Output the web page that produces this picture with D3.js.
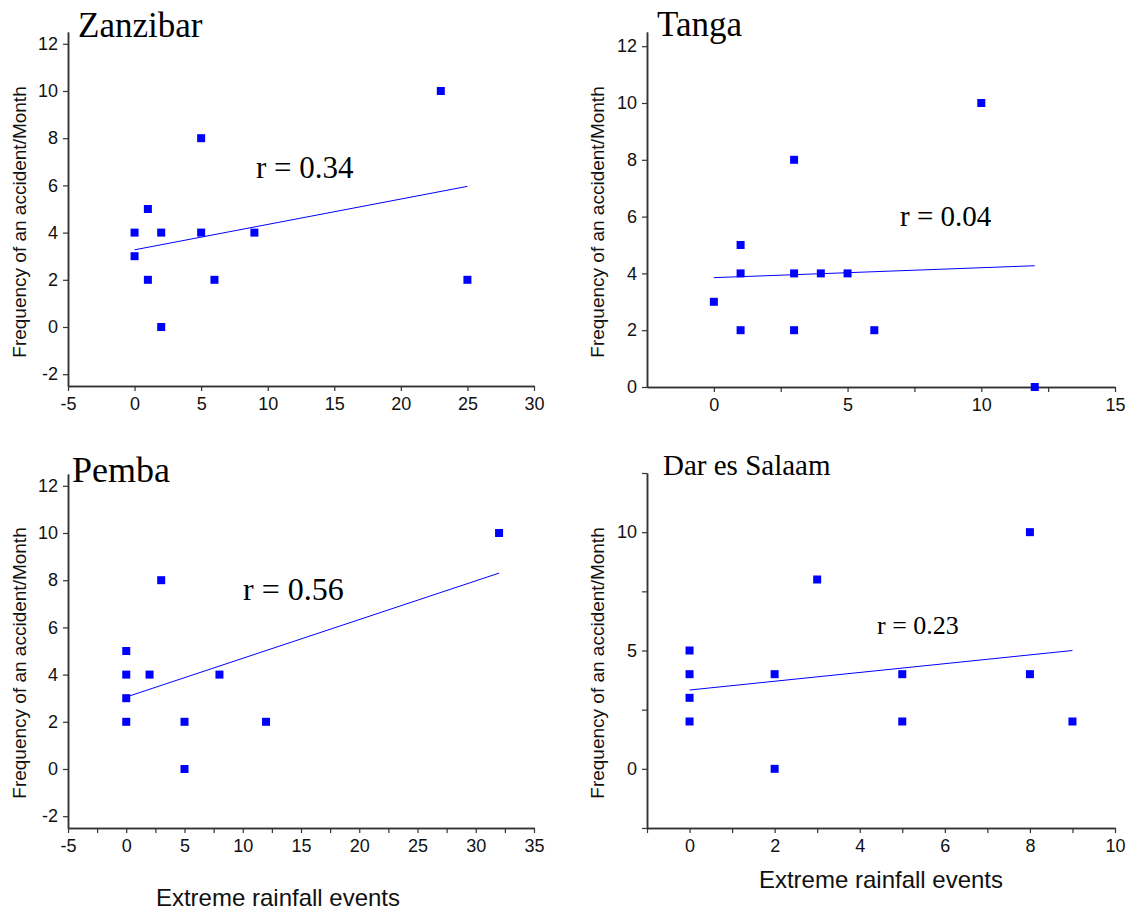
<!DOCTYPE html>
<html><head><meta charset="utf-8">
<script src="https://cdn.jsdelivr.net/npm/d3@7"></script>
<style>body{margin:0;background:#fff} svg{display:block}</style>
</head><body><svg id="c" width="1137" height="915"></svg>
<script>
// ---- data ----
const panelNames = ["Zanzibar", "Tanga", "Pemba", "Dar es Salaam"];
const zanzibarX = [0, 0, 1, 1, 2, 2, 5, 5, 6, 9, 23, 25];
const zanzibarY = [4, 3, 5, 2, 4, 0, 8, 4, 2, 4, 10, 2];
const tangaX = [0, 1, 1, 1, 3, 3, 3, 4, 5, 6, 10, 12];
const tangaY = [3, 5, 4, 2, 8, 4, 2, 4, 4, 2, 10, 0];
const pembaX = [0, 0, 0, 0, 2, 3, 5, 5, 8, 12, 32];
const pembaY = [5, 4, 3, 2, 4, 8, 2, 0, 4, 2, 10];
const darX = [0, 0, 0, 0, 2, 2, 3, 5, 5, 8, 8, 9];
const darY = [5, 4, 3, 2, 4, 0, 8, 4, 2, 10, 4, 2];
// fitted line endpoints [x1, y1, x2, y2]
const fitZanzibar = [0, 3.27, 25, 5.96];
const fitTanga = [0, 3.85, 12, 4.27];
const fitPemba = [0, 3.05, 32, 8.3];
const fitDar = [0, 3.33, 9, 5.0];
const rLabels = ["r = 0.34", "r = 0.04", "r = 0.56", "r = 0.23"];
const xDomains = [[-5, 30], [-2.5, 15], [-5, 35], [-1, 10]];
const yDomains = [[-2.5, 12.5], [0, 12.5], [-2.5, 12.5], [-2.5, 12.5]];
const xTickLabels = [[-5, 0, 5, 10, 15, 20, 25, 30], [0, 5, 10, 15], [-5, 0, 5, 10, 15, 20, 25, 30, 35], [0, 2, 4, 6, 8, 10]];
const xMinorTicks = [[], [2.5, 7.5, 12.5], [-2.5, 2.5, 7.5, 12.5, 17.5, 22.5, 27.5, 32.5], [-1, 1, 3, 5, 7, 9]];
const yTickLabels = [[-2, 0, 2, 4, 6, 8, 10, 12], [0, 2, 4, 6, 8, 10, 12], [-2, 0, 2, 4, 6, 8, 10, 12], [0, 5, 10]];
const yMinorTicks = [[], [], [], [-2.5, 2.5, 7.5, 12.5]];
const yTitle = "Frequency of an accident/Month";
const xTitle = "Extreme rainfall events";

const seriesX = [zanzibarX, tangaX, pembaX, darX];
const seriesY = [zanzibarY, tangaY, pembaY, darY];
const fits = [fitZanzibar, fitTanga, fitPemba, fitDar];

// ---- layout ----
const layout = [
  {l: 68, r: 534, t: 32, b: 386, title: [78, 37, 35], rl: [256, 178, 31], yt: [19, 222], xt: null},
  {l: 647, r: 1115, t: 32, b: 387, title: [657, 36, 35], rl: [900, 226, 29], yt: [597, 222], xt: null},
  {l: 68, r: 534, t: 474, b: 828, title: [72, 482, 36], rl: [243, 600, 32], yt: [19, 663], xt: [278, 906]},
  {l: 647, r: 1115, t: 473, b: 828, title: [663, 475, 29], rl: [877, 634, 26], yt: [597, 663], xt: [881, 888]}
];

const svg = d3.select("#c");
const axisColor = "#333";
const blue = "#0000ff";

layout.forEach((L, i) => {
  const x = d3.scaleLinear().domain(xDomains[i]).range([L.l, L.r]);
  const y = d3.scaleLinear().domain(yDomains[i]).range([L.b, L.t]);
  const g = svg.append("g");

  // axes
  g.append("g").attr("transform", `translate(0,${L.b})`)
    .call(d3.axisBottom(x).tickValues(xTickLabels[i]).tickSize(5).tickSizeOuter(0).tickPadding(6).tickFormat(d => String(d)));
  g.append("g").attr("transform", `translate(0,${L.b})`)
    .call(d3.axisBottom(x).tickValues(xMinorTicks[i]).tickSize(5).tickSizeOuter(0).tickFormat(""));
  g.append("g").attr("transform", `translate(${L.l},0)`)
    .call(d3.axisLeft(y).tickValues(yTickLabels[i]).tickSize(5).tickSizeOuter(0).tickPadding(5).tickFormat(d => String(d)));
  g.append("g").attr("transform", `translate(${L.l},0)`)
    .call(d3.axisLeft(y).tickValues(yMinorTicks[i]).tickSize(5).tickSizeOuter(0).tickFormat(""));
  g.selectAll(".domain").attr("stroke", axisColor).attr("stroke-width", 1.5);
  g.selectAll(".tick line").attr("stroke", axisColor).attr("stroke-width", 1.2);
  g.selectAll(".tick text").attr("font-family", "Arial, 'Liberation Sans', sans-serif").attr("font-size", 18).attr("fill", "#111");

  // fit line
  const f = fits[i];
  g.append("line")
    .attr("x1", x(f[0])).attr("y1", y(f[1])).attr("x2", x(f[2])).attr("y2", y(f[3]))
    .attr("stroke", blue).attr("stroke-width", 1);

  // points
  const pts = seriesX[i].map((v, k) => [v, seriesY[i][k]]);
  g.selectAll("rect.pt").data(pts).enter().append("rect")
    .attr("class", "pt")
    .attr("x", d => x(d[0]) - 4).attr("y", d => y(d[1]) - 4)
    .attr("width", 8).attr("height", 8).attr("fill", blue);

  // title
  g.append("text").attr("x", L.title[0]).attr("y", L.title[1])
    .attr("font-family", "'Liberation Serif', 'Times New Roman', serif").attr("font-size", L.title[2])
    .text(panelNames[i]);

  // r label
  g.append("text").attr("x", L.rl[0]).attr("y", L.rl[1])
    .attr("font-family", "'Liberation Serif', 'Times New Roman', serif").attr("font-size", L.rl[2])
    .text(rLabels[i]);

  // y title
  g.append("text")
    .attr("transform", `translate(${L.yt[0]},${L.yt[1]}) rotate(-90)`)
    .attr("text-anchor", "middle").attr("dominant-baseline", "central")
    .attr("font-family", "Arial, 'Liberation Sans', sans-serif").attr("font-size", 19)
    .attr("fill", "#111")
    .text(yTitle);

  if (L.xt) {
    g.append("text").attr("x", L.xt[0]).attr("y", L.xt[1])
      .attr("text-anchor", "middle")
      .attr("font-family", "Arial, 'Liberation Sans', sans-serif").attr("font-size", 24)
      .attr("fill", "#111")
      .text(xTitle);
  }
});
</script>
</body></html>
